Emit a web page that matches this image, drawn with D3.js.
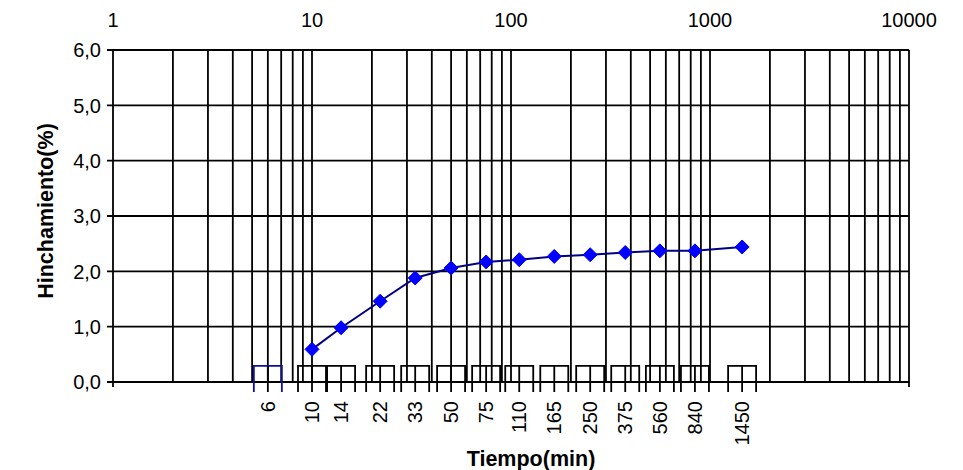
<!DOCTYPE html>
<html><head><meta charset="utf-8">
<script src="https://cdn.jsdelivr.net/npm/d3@7/dist/d3.min.js"></script>
<style>body{margin:0;background:#fff}svg{display:block}text{font-family:Arial,"Liberation Sans",sans-serif;fill:#000}</style>
</head><body><svg id="c" width="963" height="470"></svg>
<script>
const times = [10,14,22,33,50,75,110,165,250,375,560,840,1450];
const swell = [0.59,0.98,1.46,1.88,2.06,2.17,2.21,2.27,2.30,2.34,2.37,2.37,2.44];
const categories = [6,10,14,22,33,50,75,110,165,250,375,560,840,1450];
const barValues = [0.29,0.29,0.29,0.29,0.29,0.29,0.29,0.29,0.29,0.29,0.29,0.29,0.29,0.29];
const topTicks = [1,10,100,1000,10000];
const yTicks = [0,1,2,3,4,5,6];

const svg = d3.select("#c");
const x = d3.scaleLog().domain([1,10000]).range([113,909]);
const y = d3.scaleLinear().domain([0,6]).range([382,50]);
const fmt = v => v.toFixed(1).replace(".", ",");
const sw = 1.8;

// vertical grid (log minor)
const gridX = [];
for (let d = 1; d < 10000; d *= 10) for (let k = 1; k < 10; k++) gridX.push(d*k);
gridX.push(10000);
svg.append("g").selectAll("line").data(gridX).join("line")
  .attr("x1", d => x(d)).attr("x2", d => x(d))
  .attr("y1", y(6)).attr("y2", d => (d===1||d===10000) ? y(0)+5 : y(0))
  .attr("stroke","#000").attr("stroke-width",sw);

// horizontal grid + left ticks
svg.append("g").selectAll("line").data(yTicks).join("line")
  .attr("x1", 107).attr("x2", x(10000))
  .attr("y1", d => y(d)).attr("y2", d => y(d))
  .attr("stroke","#000").attr("stroke-width",sw);

// left labels
svg.append("g").selectAll("text").data(yTicks).join("text")
  .attr("x", 101).attr("y", d => y(d)).attr("dy","0.36em")
  .attr("text-anchor","end").attr("font-size",20).text(fmt);

// top labels
svg.append("g").selectAll("text").data(topTicks).join("text")
  .attr("x", d => x(d)).attr("y", 27)
  .attr("text-anchor","middle").attr("font-size",20).text(d => d);

// category boxes
const hw = 14, below = 10;
const bg = svg.append("g");
categories.forEach((c,i) => {
  const cx = x(c), top = y(barValues[i]), bot = y(0)+below;
  const col = i === 0 ? "#1010a0" : "#000";
  bg.append("path")
    .attr("d", `M${cx-hw},${bot}V${top}H${cx+hw}V${bot}`)
    .attr("fill","none").attr("stroke",col).attr("stroke-width",sw);
  bg.append("line").attr("x1",cx).attr("x2",cx).attr("y1",top).attr("y2",bot)
    .attr("stroke","#000").attr("stroke-width",sw);
});
// bottom labels
svg.append("g").selectAll("text").data(categories).join("text")
  .attr("transform", d => `translate(${x(d)},401) rotate(-90)`)
  .attr("dy","0.36em").attr("text-anchor","end").attr("font-size",20).text(d => d);

// line + markers
const pts = times.map((t,i) => [x(t), y(swell[i])]);
svg.append("path").attr("d", d3.line()(pts))
  .attr("fill","none").attr("stroke","#000080").attr("stroke-width",2);
svg.append("g").selectAll("path").data(pts).join("path")
  .attr("d", d => `M${d[0]},${d[1]-7}L${d[0]+7},${d[1]}L${d[0]},${d[1]+7}L${d[0]-7},${d[1]}Z`)
  .attr("fill","#0000ff").attr("stroke","#0000ff").attr("stroke-width",1);

// axis titles
svg.append("text").attr("transform","translate(53,211) rotate(-90)")
  .attr("text-anchor","middle").attr("font-size",21.5).attr("font-weight","bold").text("Hinchamiento(%)");
svg.append("text").attr("x",531).attr("y",466)
  .attr("text-anchor","middle").attr("font-size",21.5).attr("font-weight","bold").text("Tiempo(min)");
</script></body></html>
